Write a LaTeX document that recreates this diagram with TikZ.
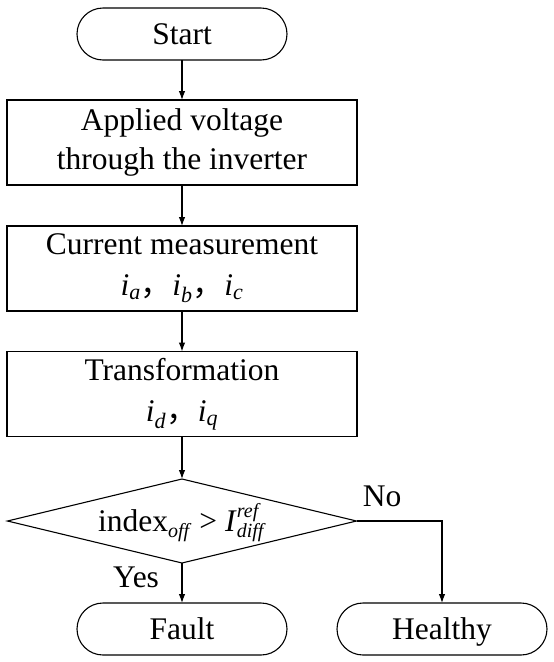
\documentclass[tikz,border=0pt]{standalone}
\usepackage{fontspec}
\setmainfont{Liberation Serif}
\newfontfamily\cjk{Noto Sans CJK SC}
\usetikzlibrary{arrows.meta,shapes.geometric}
\newcommand{\vsub}[2]{\textit{#1}\textsubscript{\textit{#2}}}
\newcommand{\sep}{{\cjk ，}}
\newcommand{\idxfont}{\fontsize{20}{20}\selectfont}
\begin{document}
\begin{tikzpicture}[x=1pt,y=-1pt,
        line width=1.1pt,
        >={Latex[length=9pt,width=6.5pt]},
        every node/.style={font=\fontsize{31.5}{39}\selectfont,inner sep=0pt,outer sep=0pt},
        terminal/.style={draw,rectangle,rounded corners=26pt,minimum width=210pt,minimum height=52pt,text height=24pt,text depth=3pt},
        process/.style={draw,rectangle,align=center,minimum width=350pt,minimum height=85pt},
        decision/.style={draw,diamond,aspect=4.15,minimum width=349pt,minimum height=84pt,text height=24pt,text depth=3pt}]
        \useasboundingbox (0,0) rectangle (554,662);
        %% Blocks
        \node[terminal] (start) at (182,34) {Start};
        \node[process] (volt) at (182,142.5) {Applied voltage\\through the inverter};
        \node[process] (meas) at (182,268.5) {Current measurement\\[2pt]\vsub{i}{a}\sep\vsub{i}{b}\sep\vsub{i}{c}};
        \node[process] (trans) at (182,394) {Transformation\\[2pt]\vsub{i}{d}\sep\vsub{i}{q}};
        \node[decision] (check) at (182,521) {index\raisebox{-6pt}{\idxfont\textit{off}}\ >\ \textit{I}\rlap{\raisebox{14pt}{\idxfont\textit{ref}}}\raisebox{-6pt}{\idxfont\textit{diff}}};
        \node[terminal] (fault) at (182,629) {Fault};
        \node[terminal] (healthy) at (442,629) {Healthy};
        %% Arrows
        \draw[->] (start) -- (volt);
        \draw[->] (volt) -- (meas);
        \draw[->] (meas) -- (trans);
        \draw[->] (trans) -- (check);
        \draw[->] (check) -- (fault) node[pos=0.35,anchor=east,xshift=-23pt] (yes) {Yes};
        \draw[->] (check.east) -| (healthy.north) node[pos=0.15,anchor=south,yshift=14pt] (no) {No};
    \end{tikzpicture}
\end{document}
